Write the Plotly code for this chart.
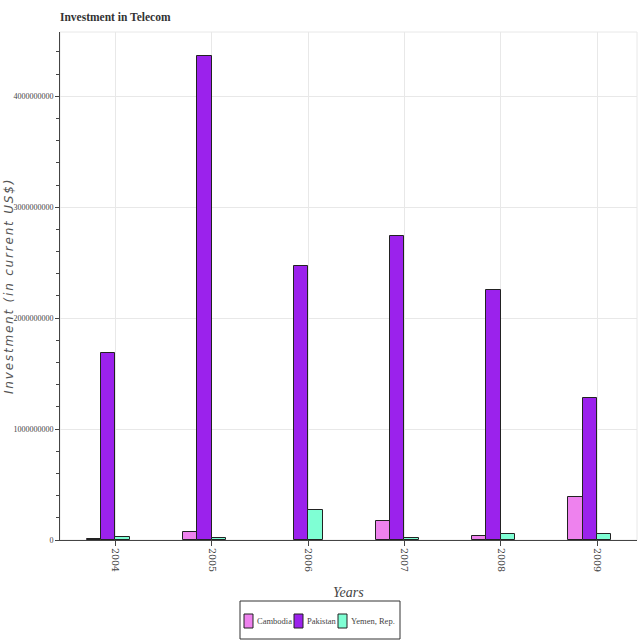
import plotly.graph_objects as go

years = ["2004", "2005", "2006", "2007", "2008", "2009"]
cambodia = [5e6, 7.0e7, None, 1.7e8, 3.5e7, 3.9e8]
pakistan = [1.685e9, 4.366e9, 2.47e9, 2.74e9, 2.25e9, 1.28e9]
yemen = [2.5e7, 1.5e7, 2.7e8, 1.5e7, 5.0e7, 5.0e7]

series_names = ["Cambodia", "Pakistan", "Yemen, Rep."]
series_values = [cambodia, pakistan, yemen]
series_colors = ["#EE82EE", "#9B22EC", "#7FFFD4"]
series_offsets = [-0.30, -0.15, 0.0]

serif = "Liberation Serif, Times New Roman, serif"

# plot area geometry in pixels
L, R, T, B = 60, 3, 32, 100
PW, PH = 640 - L - R, 640 - T - B

def px(x):
    return (x - L) / PW

def py(y):
    return (640 - B - y) / PH

fig = go.Figure()
for name, vals, color, off in zip(series_names, series_values, series_colors, series_offsets):
    fig.add_trace(go.Bar(
        x=years, y=vals, name=name,
        width=0.15, offset=off,
        marker=dict(color=color, line=dict(color="#222222", width=1)),
        showlegend=False,
    ))

fig.update_layout(
    width=640, height=640,
    margin=dict(l=L, r=R, t=T, b=B, autoexpand=False),
    plot_bgcolor="white", paper_bgcolor="white",
    title=dict(text="<b>Investment in Telecom</b>", x=60/640, xref="container", xanchor="left",
               y=1-17/640, yref="container", yanchor="middle",
               font=dict(family=serif, size=11.5, color="#333333")),
    bargap=0,
)
fig.update_xaxes(
    type="category", range=[-0.576, 5.415], automargin=False,
    showgrid=True, gridcolor="#e8e8e8",
    showline=True, linecolor="#444444", linewidth=1,
    ticks="outside", ticklen=5, tickcolor="#444444",
    tickangle=90,
    tickfont=dict(family="DejaVu Serif, serif", size=9.5, color="#444444"),
)
fig.update_yaxes(
    range=[0, 4.58e9], automargin=False,
    tickvals=[0, 1e9, 2e9, 3e9, 4e9],
    ticktext=["0", "1000000000", "2000000000", "3000000000", "4000000000"],
    showgrid=True, gridcolor="#e8e8e8", zeroline=False,
    showline=True, linecolor="#444444", linewidth=1,
    ticks="outside", ticklen=4, tickcolor="#444444",
    minor=dict(dtick=2e8, ticks="outside", ticklen=3, tickcolor="#444444", showgrid=False),
    tickfont=dict(family=serif, size=8, color="#444444"),
)
fig.add_shape(type="rect", xref="paper", yref="paper", x0=0, x1=1, y0=0, y1=1,
              line=dict(color="#e8e8e8", width=1), layer="below")

# axis titles
fig.add_annotation(text="<span style='letter-spacing:1.8px'><i>Investment (in current US$)</i></span>",
                   xref="paper", yref="paper",
                   x=px(9), y=0.5, textangle=-90, showarrow=False,
                   xanchor="center", yanchor="middle",
                   font=dict(family="DejaVu Sans, sans-serif", size=12, color="#555555"))
fig.add_annotation(text="<i>Years</i>", xref="paper", yref="paper",
                   x=0.5, y=py(592), showarrow=False, xanchor="center", yanchor="middle",
                   font=dict(family=serif, size=14, color="#444444"))

# legend box below the plot
fig.add_shape(type="rect", xref="paper", yref="paper",
              x0=px(240), x1=px(400), y0=py(639), y1=py(601),
              line=dict(color="#333333", width=1), fillcolor="white")
sym_x = [244, 294, 338]
txt_x = [255, 305, 349]
for name, color, sx, tx in zip(series_names, series_colors, sym_x, txt_x):
    fig.add_shape(type="rect", xref="paper", yref="paper",
                  x0=px(sx), x1=px(sx + 9), y0=py(628), y1=py(614),
                  line=dict(color="#222222", width=1), fillcolor=color)
    fig.add_annotation(text=name, xref="paper", yref="paper", x=px(tx), y=py(621),
                       xanchor="left", yanchor="middle", showarrow=False,
                       font=dict(family=serif, size=8.5, color="#444444"))

fig.write_html("out.html")
